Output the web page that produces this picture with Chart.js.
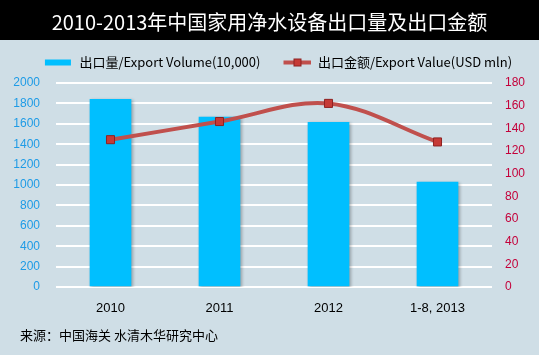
<!DOCTYPE html>
<html><head><meta charset="utf-8">
<script src="https://cdn.jsdelivr.net/npm/chart.js@4/dist/chart.umd.min.js"></script>
<style>html,body{margin:0;padding:0;background:#CFDEE6;overflow:hidden}</style>
</head><body>
<canvas id="c" width="539" height="355" style="display:block;width:539px;height:355px"></canvas>
<script>
const titleText = '2010-2013年中国家用净水设备出口量及出口金额';
const sourceText = '来源：中国海关 水清木华研究中心';
const categories = ['2010', '2011', '2012', '1-8, 2013'];
const volumeLabel = '出口量/Export Volume(10,000)';
const valueLabel = '出口金额/Export Value(USD mln)';
const exportVolume = [1840, 1665, 1615, 1028];
const exportValue = [130, 146, 162, 128];
const leftTicks = {min: 0, max: 2000, step: 200};
const rightTicks = {min: 0, max: 180, step: 20};

const BAR = '#00BFFF', LINE = '#C0504D', MARK = '#C63A36', MARKB = '#8E2222';
const CJK = '"Noto Sans CJK SC", "Liberation Sans", sans-serif';
const NUM = '"Liberation Sans", Arial, sans-serif';

function icon(type) {
  const c = document.createElement('canvas');
  c.width = 46; c.height = 10;
  const x = c.getContext('2d');
  const o = 18;
  if (type === 'bar') {
    x.fillStyle = BAR; x.fillRect(o, 2, 26, 6);
  } else {
    x.strokeStyle = LINE; x.lineWidth = 4; x.beginPath(); x.moveTo(o, 5); x.lineTo(o + 28, 5); x.stroke();
    x.fillStyle = MARK; x.fillRect(o + 10, 1, 8, 8);
    x.strokeStyle = MARKB; x.lineWidth = 1; x.strokeRect(o + 10.5, 1.5, 7, 7);
  }
  return c;
}
const icons = [icon('bar'), icon('line')];

const bgPlugin = {
  id: 'bg',
  beforeLayout(chart) {
    const lg = chart.legend;
    if (lg && !lg._fixed) {
      const orig = lg.fit.bind(lg);
      lg.fit = function () { orig(); this.height = 32; };
      lg._fixed = true;
    }
  },
  beforeDraw(chart) {
    const ctx = chart.ctx;
    ctx.save();
    ctx.fillStyle = '#CFDEE6'; ctx.fillRect(0, 0, chart.width, chart.height);
    ctx.fillStyle = '#000000'; ctx.fillRect(0, 0, chart.width, 40);
    ctx.restore();
  },
  afterDraw(chart) {
    const ctx = chart.ctx;
    ctx.save();
    ctx.font = '13px ' + CJK;
    ctx.fillStyle = '#000';
    ctx.textBaseline = 'middle';
    ctx.textAlign = 'left';
    ctx.fillText(sourceText, 20, 335);
    ctx.restore();
  },
  beforeDatasetDraw(chart, args) {
    if (args.index === 0) {
      const ctx = chart.ctx; ctx.save();
      ctx.shadowColor = 'rgba(0,0,0,0.28)'; ctx.shadowBlur = 3; ctx.shadowOffsetX = 1.5; ctx.shadowOffsetY = 1.5;
    }
  },
  afterDatasetDraw(chart, args) {
    if (args.index === 0) chart.ctx.restore();
  }
};

new Chart(document.getElementById('c'), {
  data: {
    labels: categories,
    datasets: [
      {type: 'bar', label: volumeLabel, data: exportVolume, yAxisID: 'yL', backgroundColor: BAR, borderWidth: 0, barThickness: 41, order: 1},
      {type: 'line', label: valueLabel, data: exportValue, yAxisID: 'yR', borderColor: LINE, borderWidth: 4, tension: 0.35,
       pointStyle: 'rect', pointRadius: 5.7, pointBackgroundColor: MARK, pointBorderColor: MARKB, pointBorderWidth: 1, order: 0}
    ]
  },
  options: {
    responsive: false, animation: false, devicePixelRatio: 1,
    layout: {padding: {left: 0, right: 0, top: 0, bottom: 38}},
    plugins: {
      title: {display: true, text: titleText, color: '#FFFFFF', font: {family: CJK, size: 20, weight: 'normal'}, padding: {top: 10, bottom: 17}},
      legend: {
        display: true, position: 'top',
        labels: {
          usePointStyle: true, pointStyleWidth: 46, boxHeight: 10, padding: 5,
          color: '#000', font: {family: CJK, size: 13},
          generateLabels(chart) {
            return chart.data.datasets.map((d, i) => ({
              text: d.label, pointStyle: icons[i], datasetIndex: i, hidden: false,
              fillStyle: 'transparent', strokeStyle: 'transparent', lineWidth: 0, fontColor: '#000'
            }));
          }
        }
      },
      tooltip: {enabled: false}
    },
    scales: {
      x: {
        afterFit(s) { s.height = 30; },
        grid: {display: false, drawTicks: false}, border: {display: false},
        ticks: {color: '#000', font: {family: NUM, size: 13}, padding: 14, maxRotation: 0}
      },
      yL: {
        position: 'left', min: leftTicks.min, max: leftTicks.max,
        afterFit(s) { s.width = 56; },
        grid: {color: '#FFFFFF', lineWidth: 2, drawTicks: false}, border: {display: false},
        ticks: {stepSize: leftTicks.step, color: '#1E9BE6', font: {family: NUM, size: 12}, padding: 16, callback: v => String(v)}
      },
      yR: {
        position: 'right', min: rightTicks.min, max: rightTicks.max,
        afterFit(s) { s.width = 47; },
        grid: {display: false, drawTicks: false}, border: {display: false},
        ticks: {stepSize: rightTicks.step, color: '#C4003A', font: {family: NUM, size: 12}, padding: 13, callback: v => String(v)}
      }
    }
  },
  plugins: [bgPlugin]
});
</script>
</body></html>
